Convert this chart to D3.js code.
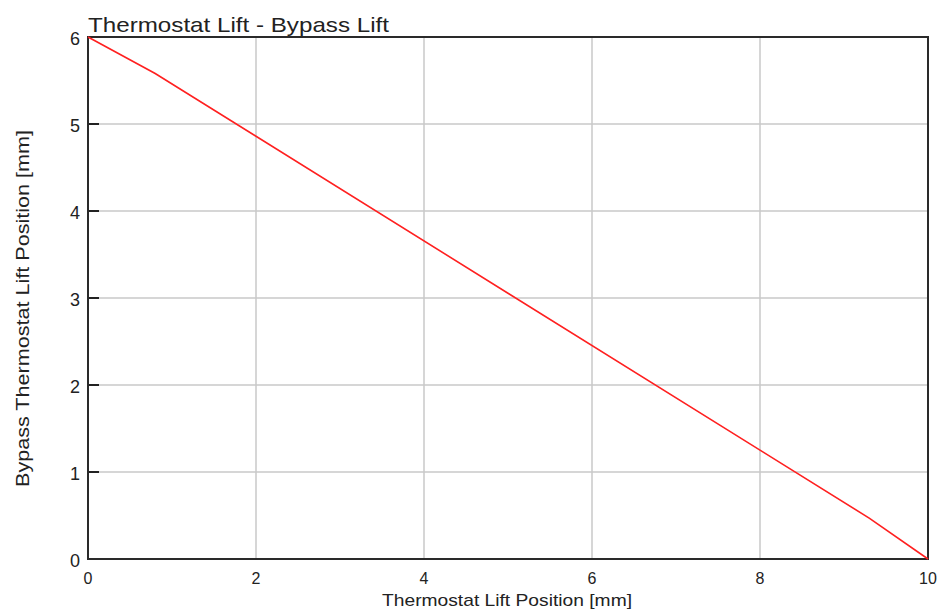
<!DOCTYPE html>
<html>
<head>
<meta charset="utf-8">
<script src="https://cdn.jsdelivr.net/npm/d3@7"></script>
<style>
    body { margin: 0; background: #fff; }
    text { font-family: "Liberation Sans", Arial, sans-serif; fill: #222; }
</style>
</head>
<body>
<div id="chart"></div>
<script>
// thermostat lift vs bypass lift
var liftX = [0, 0.8, 9.3, 10];
var bypassY = [6, 5.58, 0.47, 0];
var xTicks = [0, 2, 4, 6, 8, 10];
var yTicks = [0, 1, 2, 3, 4, 5, 6];

var width = 940, height = 611;
var margin = {top: 37, right: 12, bottom: 52, left: 88};
var plotW = width - margin.left - margin.right;
var plotH = height - margin.top - margin.bottom;

var svg = d3.select('#chart').append('svg')
    .attr('width', width)
    .attr('height', height);

var x = d3.scaleLinear().domain([0, 10]).range([margin.left, margin.left + plotW]);
var y = d3.scaleLinear().domain([0, 6]).range([margin.top + plotH, margin.top]);

// grid lines
svg.append('g').selectAll('line.vx')
    .data(xTicks.slice(1, -1))
    .enter().append('line')
    .attr('x1', function(d) { return x(d); })
    .attr('x2', function(d) { return x(d); })
    .attr('y1', y(0)).attr('y2', y(6))
    .style('stroke', '#c8c8c8').style('stroke-width', 1.5);

svg.append('g').selectAll('line.hy')
    .data(yTicks.slice(1, -1))
    .enter().append('line')
    .attr('x1', x(0)).attr('x2', x(10))
    .attr('y1', function(d) { return y(d); })
    .attr('y2', function(d) { return y(d); })
    .style('stroke', '#c8c8c8').style('stroke-width', 1.5);

// short dark ticks on the inside of the y axis
svg.append('g').selectAll('line.tk')
    .data(yTicks.slice(1, -1))
    .enter().append('line')
    .attr('x1', x(0)).attr('x2', x(0) + 11)
    .attr('y1', function(d) { return y(d); })
    .attr('y2', function(d) { return y(d); })
    .style('stroke', '#222').style('stroke-width', 2);

// frame
svg.append('rect')
    .attr('x', x(0)).attr('y', y(6))
    .attr('width', x(10) - x(0)).attr('height', y(0) - y(6))
    .style('fill', 'none').style('stroke', '#2a2a2a').style('stroke-width', 2);

// the curve
var points = liftX.map(function(d, i) { return [d, bypassY[i]]; });
svg.append('path')
    .datum(points)
    .attr('d', d3.line()
        .x(function(d) { return x(d[0]); })
        .y(function(d) { return y(d[1]); }))
    .style('fill', 'none')
    .style('stroke', '#ff2020')
    .style('stroke-width', 1.6);

// tick labels
svg.append('g').selectAll('text')
    .data(xTicks)
    .enter().append('text')
    .attr('x', function(d) { return x(d); })
    .attr('y', y(0) + 25)
    .attr('text-anchor', 'middle')
    .style('font-size', '16px')
    .text(function(d) { return d; });

svg.append('g').selectAll('text')
    .data(yTicks)
    .enter().append('text')
    .attr('x', x(0) - 8)
    .attr('y', function(d) { return y(d) + 8; })
    .attr('text-anchor', 'end')
    .style('font-size', '18px')
    .text(function(d) { return d; });

// titles
svg.append('text')
    .attr('x', margin.left)
    .attr('y', 32)
    .attr('textLength', 301)
    .attr('lengthAdjust', 'spacingAndGlyphs')
    .style('font-size', '21px')
    .text('Thermostat Lift - Bypass Lift');

svg.append('text')
    .attr('x', 382)
    .attr('y', 606)
    .attr('textLength', 250)
    .attr('lengthAdjust', 'spacingAndGlyphs')
    .style('font-size', '17px')
    .text('Thermostat Lift Position [mm]');

svg.append('text')
    .attr('transform', 'translate(29,487) rotate(-90)')
    .attr('textLength', 357)
    .attr('lengthAdjust', 'spacingAndGlyphs')
    .style('font-size', '18px')
    .text('Bypass Thermostat Lift Position [mm]');
</script>
</body>
</html>
